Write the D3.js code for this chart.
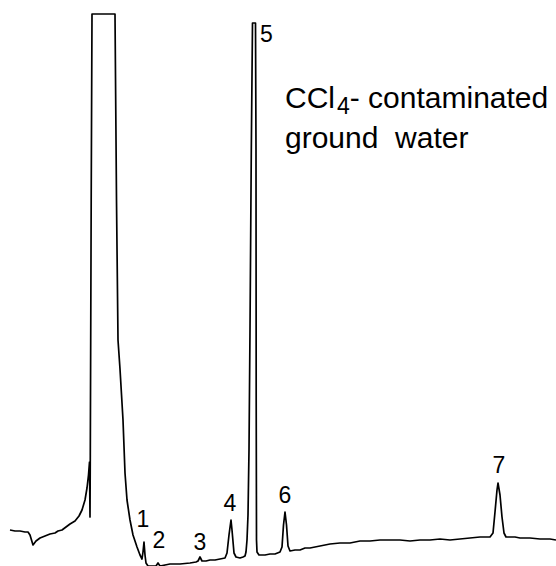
<!DOCTYPE html>
<html>
<head>
<meta charset="utf-8">
<script src="https://cdn.jsdelivr.net/npm/d3@7"></script>
<style>
  body { margin: 0; background: #fff; }
  text { font-family: "Liberation Sans", Arial, sans-serif; fill: #000; }
</style>
</head>
<body>
<svg id="chrom"></svg>
<script>
// retention time (min) and detector response (arbitrary units)
var time = [0, 0.25, 0.5, 0.75, 0.9, 1.0, 1.15, 1.3, 1.5, 1.75, 2.0, 2.25, 2.4, 2.6, 2.8, 3.0,
  3.25, 3.45, 3.6, 3.75, 3.85, 3.925, 3.975, 4.0, 4.015, 4.06, 4.1, 5.25, 5.325, 5.4, 5.5,
  5.65, 5.75, 5.85, 6.0, 6.15, 6.35, 6.5, 6.6, 6.65, 6.7, 6.75, 6.8, 6.9, 7.1, 7.3, 7.4,
  7.5, 7.75, 8.0, 8.5, 9.0, 9.3, 9.4, 9.5, 9.6, 9.8, 10.0, 10.25, 10.5, 10.75, 10.85,
  10.95, 11.05, 11.1, 11.2, 11.3, 11.5, 11.65, 11.75, 11.8, 11.85, 11.9, 11.95, 12.0,
  12.065, 12.125, 12.275, 12.3, 12.31, 12.325, 12.35, 12.45, 12.75, 13.0, 13.25, 13.5,
  13.6, 13.675, 13.75, 13.825, 13.9, 14.0, 14.25, 14.5, 14.75, 15.0, 15.5, 16.0, 16.5,
  17.0, 17.5, 18.0, 18.5, 19.0, 19.5, 20.0, 20.5, 21.0, 21.5, 22.0, 22.5, 23.0, 23.5,
  24.0, 24.15, 24.25, 24.35, 24.4, 24.5, 24.6, 24.7, 24.8, 25.25, 25.5, 26.0, 26.5, 27.0, 27.3];
var response = [7.2, 7.0, 7.0, 6.8, 6.8, 6.2, 4.2, 5.0, 5.6, 6.0, 6.4, 6.6, 7.0, 7.2, 7.8, 8.4,
  9.0, 10.0, 11.2, 13.2, 15.6, 18.2, 20.8, 9.8, 22.2, 73.2, 110.4, 110.4, 73.2, 45.2, 39.4,
  29.2, 18.6, 13.2, 9.2, 6.2, 3.8, 2.2, 1.4, 2.8, 4.8, 2.2, 0.6, 0, 0, 0, 0.6,
  0, 0.2, 0.4, 0.4, 0.6, 0.8, 1.0, 1.8, 1.0, 1.0, 1.2, 1.2, 1.4, 1.6, 2.6,
  6.2, 9.2, 7.2, 2.6, 1.8, 1.6, 1.8, 2.0, 2.8, 5.2, 10.2, 23.2, 47.2,
  83.2, 108.6, 108.6, 83.2, 33.2, 5.2, 2.8, 2.2, 2.2, 2.4, 2.4, 2.8,
  3.8, 8.2, 10.8, 8.2, 4.0, 3.0, 3.2, 3.2, 3.6, 3.6, 4.0, 4.4, 4.6,
  4.6, 5.0, 5.0, 5.2, 5.2, 5.2, 5.0, 5.2, 5.2, 5.4, 5.2, 5.4, 5.6, 5.8,
  5.8, 6.6, 10.8, 15.2, 16.6, 14.2, 9.8, 6.6, 5.8, 5.8, 5.6, 5.6, 5.4, 5.4, 5.2];

// numbered peaks
var peakIds = ['1', '2', '3', '4', '5', '6', '7'];
var peakTime = [6.7, 7.4, 9.5, 11.05, 12.2, 13.75, 24.4];
var peakApex = [4.8, 0.6, 1.8, 9.2, 108.6, 10.8, 16.6];

var w = 556, h = 566;
var xs = d3.scaleLinear().domain([0, 27.3]).range([10, 556]);
var ys = d3.scaleLinear().domain([0, 110.4]).range([566, 14]);

var svg = d3.select('#chrom').attr('width', w).attr('height', h);

var pts = time.map(function(t, i) { return [t, response[i]]; });
var line = d3.line()
  .x(function(d) { return xs(d[0]); })
  .y(function(d) { return ys(d[1]); });

svg.append('path')
  .datum(pts)
  .attr('d', line)
  .attr('fill', 'none')
  .attr('stroke', '#000')
  .attr('stroke-width', 1.7)
  .attr('stroke-linejoin', 'round');

// label offsets (px) so the numbers sit where they are in the figure
var ldx = [-1, 1, 0, -1, 0, 0, 1];
var ldy = [-15, -15, -7, -9, 19, -9, -10];

svg.selectAll('text.peak')
  .data(peakIds)
  .enter()
  .append('text')
    .attr('class', 'peak')
    .attr('x', function(d, i) { return i == 4 ? xs(peakTime[i]) + 6 : xs(peakTime[i]) + ldx[i]; })
    .attr('y', function(d, i) { return ys(peakApex[i]) + ldy[i]; })
    .attr('text-anchor', function(d, i) { return i == 4 ? 'start' : 'middle'; })
    .attr('font-size', 23)
    .text(function(d) { return d; });

// sample description
var t1 = svg.append('text').attr('x', 285).attr('y', 108).attr('font-size', 30);
t1.append('tspan').text('CCl');
t1.append('tspan').attr('font-size', 23).attr('dy', 6).attr('dx', 2).text('4');
t1.append('tspan').attr('dy', -6).text('- contaminated');

svg.append('text').attr('x', 285).attr('y', 148).attr('font-size', 30)
  .attr('xml:space', 'preserve')
  .text('ground  water');
</script>
</body>
</html>
